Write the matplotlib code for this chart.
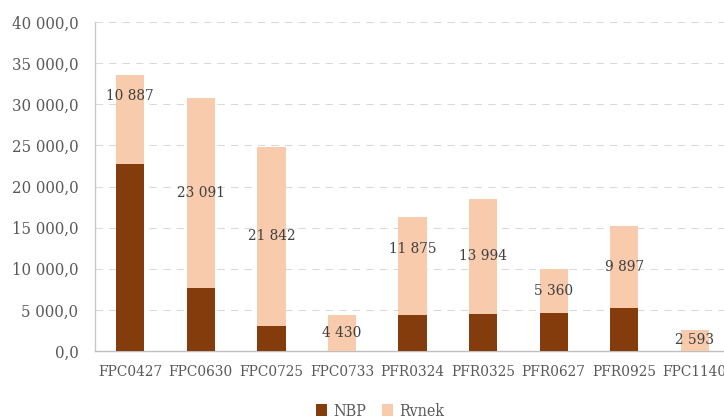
import matplotlib
matplotlib.use("Agg")
import matplotlib.pyplot as plt
import numpy as np

categories = ["FPC0427", "FPC0630", "FPC0725", "FPC0733", "PFR0324",
              "PFR0325", "PFR0627", "PFR0925", "FPC1140"]
nbp = [22700, 7650, 3000, 0, 4410, 4540, 4660, 5270, 0]
rynek = [10887, 23091, 21842, 4430, 11875, 13994, 5360, 9897, 2593]
yticks = [0, 5000, 10000, 15000, 20000, 25000, 30000, 35000, 40000]

# label vertical shifts relative to segment centre (data units)
label_shift = [2800, 0, 0, 0, 2100, 0, 0, 0, 0]

C_NBP = "#843C0C"
C_RYN = "#F8CBAD"
TXT = "#595959"

plt.rcParams["font.family"] = ["DejaVu Serif"]
plt.rcParams["font.stretch"] = "condensed"

fig = plt.figure(figsize=(7.24, 4.16), dpi=100)
W, H = 724, 416
ax = fig.add_axes([95 / W, (H - 351) / H, (730 - 95) / W, (351 - 22) / H])

x = np.arange(len(categories))
b1 = ax.bar(x, nbp, width=0.4, color=C_NBP, label="NBP", zorder=3)
b2 = ax.bar(x, rynek, width=0.4, bottom=nbp, color=C_RYN, label="Rynek", zorder=3)

for i, (n, r) in enumerate(zip(nbp, rynek)):
    lbl = f"{r:,}".replace(",", " ")
    ax.text(x[i], n + r / 2 + label_shift[i], lbl, ha="center", va="center",
            fontsize=11, color="#404040", zorder=4)

ax.set_xlim(-0.5, len(categories) - 0.5)
ax.set_ylim(0, 40000)
ax.set_yticks(yticks)
ax.set_yticklabels([f"{v:,.1f}".replace(",", " ").replace(".", ",") for v in yticks])
ax.set_xticks(x)
ax.set_xticklabels(categories)
ax.tick_params(axis="y", length=0, pad=12, labelsize=12, labelcolor=TXT)
ax.tick_params(axis="x", length=0, pad=10, labelsize=11, labelcolor=TXT)

ax.yaxis.grid(True, color="#D9D9D9", linewidth=0.75, linestyle=(0, (7, 6)), zorder=0)
ax.set_axisbelow(True)
for s in ["top", "right"]:
    ax.spines[s].set_visible(False)
ax.spines["left"].set_color("#C8C8C8")
ax.spines["bottom"].set_color("#BFBFBF")
ax.spines["left"].set_linewidth(1)
ax.spines["bottom"].set_linewidth(1)

fig.legend(handles=[b1, b2], labels=["NBP", "Rynek"], loc="center",
           bbox_to_anchor=(380 / W, 1 - 411 / H), ncol=2, frameon=False,
           fontsize=11.5, labelcolor=TXT, handlelength=0.7, handleheight=0.7,
           handletextpad=0.4, columnspacing=1.0)

fig.savefig("out.png", dpi=100)
